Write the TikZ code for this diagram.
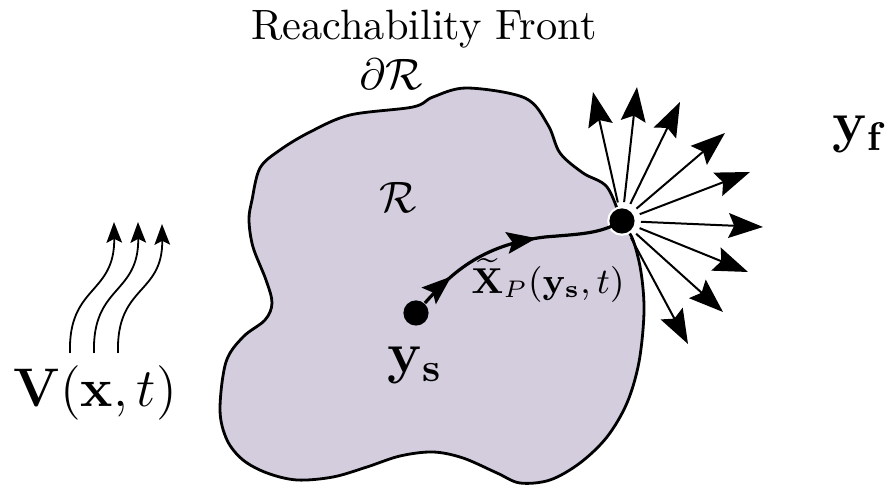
\RequirePackage{fix-cm}
\documentclass[tikz,border=0pt]{standalone}
\usepackage{amsmath}
\usetikzlibrary{arrows.meta,decorations.markings}
\definecolor{blobfill}{RGB}{211,205,222}
\tikzset{
  blob/.style={draw=black,line width=0.7pt,fill=blobfill},
  fan/.style={line width=0.5pt,-{Stealth[length=8.6pt,width=6.2pt,inset=1.4pt]}},
  wind/.style={line width=0.45pt,-{Stealth[length=5.2pt,width=3.9pt,inset=1pt]}},
  traj/.style={line width=0.8pt,
    decoration={markings,
      mark=at position 0.17 with {\arrow{Stealth[length=7.4pt,width=5.4pt,inset=1.3pt]}},
      mark=at position 0.6 with {\arrow{Stealth[length=7.4pt,width=5.4pt,inset=1.3pt]}}},
    postaction=decorate},
  bigdot/.style={circle,fill=black,inner sep=0pt,minimum size=6.3pt},
  frontdot/.style={circle,fill=black,draw=white,line width=1.1pt,inner sep=0pt,minimum size=6.3pt,outer sep=1.6pt},
  lbl/.style={inner sep=0pt,anchor=base}
}
\begin{document}
\begin{tikzpicture}[x=0.25pt,y=-0.25pt]
\useasboundingbox (0,0) rectangle (892,489);
% reachable set
\draw[blob] plot[smooth cycle,tension=0.55] coordinates {
 (622,221) (607,187) (583,173) (560,153) (548,125) (525,98) (467,88) (433,97)
 (413,107) (350,115) (310,132) (280,150) (260,168) (252,200) (249,220)
 (253,247) (266,280) (272,303) (265,320) (243,337) (226,362) (220,410)
 (227,440) (243,460) (267,473) (297,480) (333,477) (367,467) (400,456)
 (433,452) (463,458) (497,473) (520,483) (550,480) (580,463) (607,437)
 (627,403) (639,362) (644,312) (641,272) (633,240)};
% texts
\node[lbl,font=\fontsize{10.6}{12}\selectfont] (title) at (424,40) {Reachability Front};
\node[lbl,font=\fontsize{11}{13}\selectfont] (dR) at (391,90) {$\partial\mathcal{R}$};
\node[lbl,font=\fontsize{11}{13}\selectfont] (R) at (398,213) {$\mathcal{R}$};
\node[lbl,font=\fontsize{14.4}{16}\selectfont] (ys) at (415,373) {$\mathbf{y}_{\mathbf{s}}$};
\node[lbl,font=\fontsize{14.4}{16}\selectfont] (yf) at (860,142) {$\mathbf{y}_{\mathbf{f}}$};
\node[lbl,font=\fontsize{13.6}{16}\selectfont] (V) at (95,407) {$\mathbf{V}(\mathbf{x},t)$};
\node[lbl,font=\fontsize{9}{11}\selectfont] (XP) at (548,294) {$\widetilde{\mathbf{X}}_P(\mathbf{y}_{\mathbf{s}},t)$};
% points
\node[bigdot] (ysdot) at (416,313) {};
\node[frontdot] (yfdot) at (622,221) {};
% trajectory
\draw[traj] (ysdot) .. controls (450,275) and (480,245) .. (545,237)
  .. controls (580,234) and (600,234) .. (yfdot.center);
\node[bigdot] at (yfdot.center) {};
% fan of arrows
\coordinate (f1) at (593,92);
\coordinate (f2) at (637,87);
\coordinate (f3) at (680,102);
\coordinate (f4) at (725,133);
\coordinate (f5) at (750,172);
\coordinate (f6) at (763,227);
\coordinate (f7) at (748,272);
\coordinate (f8) at (723,312);
\coordinate (f9) at (688,344);
\foreach \i in {1,...,9} {\draw[fan] (yfdot) -- (f\i);}
% flow field
\coordinate (w1a) at (70,353); \coordinate (w1b) at (114,222);
\coordinate (w2a) at (94,353); \coordinate (w2b) at (138,222);
\coordinate (w3a) at (118,353); \coordinate (w3b) at (162,224);
\draw[wind] (w1a) .. controls (68,285) and (115,295) .. (w1b);
\draw[wind] (w2a) .. controls (92,285) and (139,295) .. (w2b);
\draw[wind] (w3a) .. controls (116,285) and (163,295) .. (w3b);
\end{tikzpicture}
\end{document}
